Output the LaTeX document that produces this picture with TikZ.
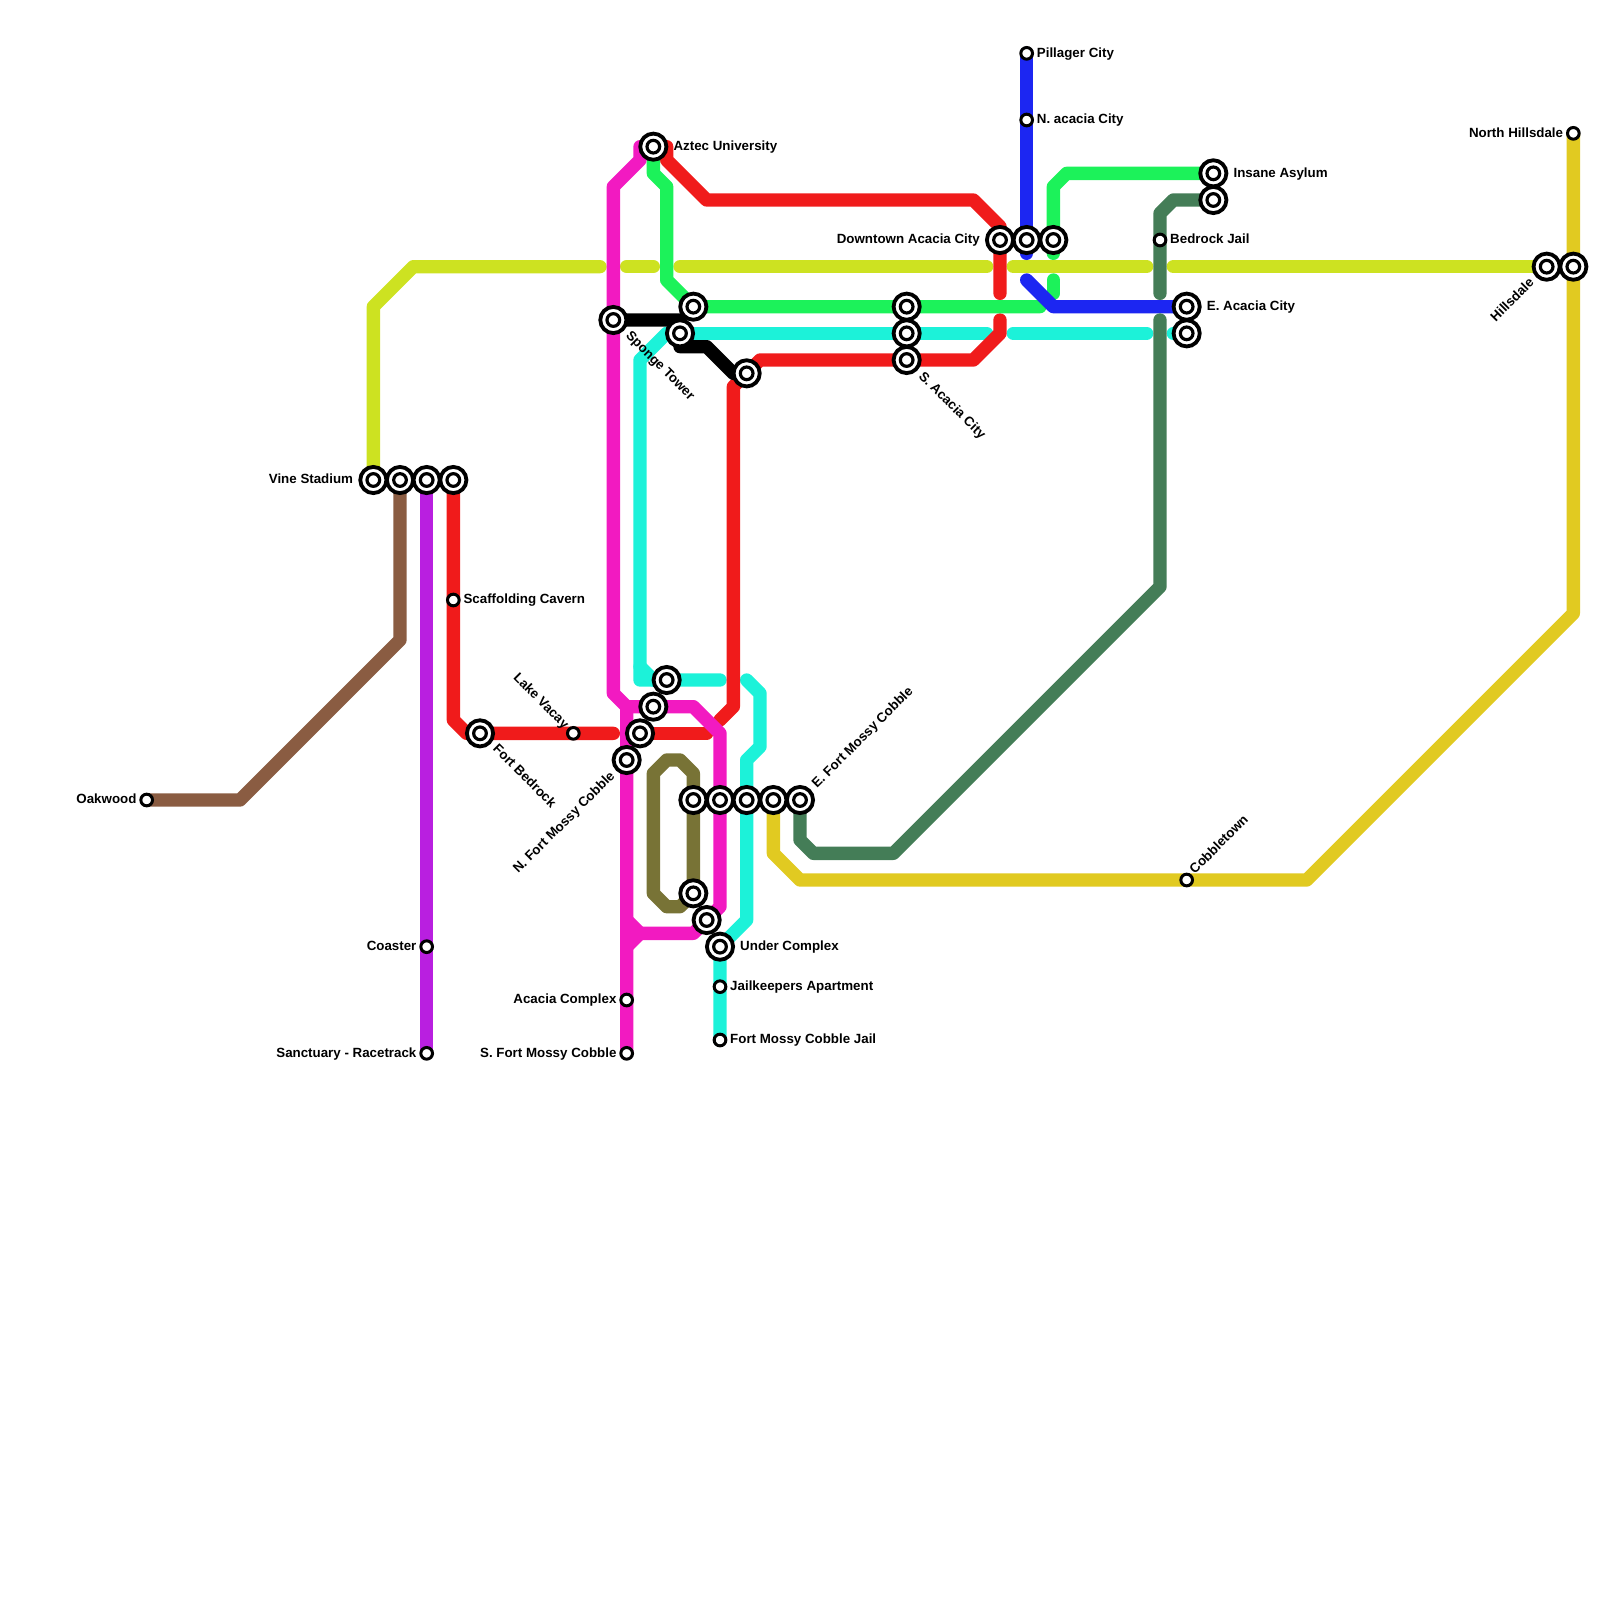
\documentclass[tikz,border=0pt]{standalone}
\usepackage{fontspec}
\setmainfont{Liberation Sans}
\usetikzlibrary{calc, positioning, backgrounds}

\definecolor{linelime}{HTML}{CDE221}
\definecolor{lineyellow}{HTML}{E1CA21}
\definecolor{linebrown}{HTML}{8A5C42}
\definecolor{linepurple}{HTML}{B91FE0}
\definecolor{linered}{HTML}{F01B1B}
\definecolor{linecyan}{HTML}{1CF2D9}
\definecolor{linegreen}{HTML}{1CF25A}
\definecolor{lineblue}{HTML}{1C26F2}
\definecolor{linemagenta}{HTML}{F21AC1}
\definecolor{lineforest}{HTML}{447D57}
\definecolor{lineolive}{HTML}{787336}

\tikzset{
    metroline/.style={line width=0.4cm, line cap=round, line join=round},
    interchange/.style={circle, draw=black, fill=white, line width=0.115cm,
        minimum size=0.785cm, inner sep=0pt,
        path picture={\draw[black, line width=0.095cm, fill=white]
            (path picture bounding box.center) circle (0.19cm);}},
    halt/.style={circle, draw=black, fill=white, line width=0.09cm,
        minimum size=0.35cm, inner sep=0pt},
    stationtext/.style={inner sep=0pt, text=black, text height=8.2pt, text depth=1.4pt,
        font=\bfseries\fontsize{11.38pt}{12pt}\selectfont},
}

\begin{document}
\begin{tikzpicture}[x=0.4cm, y=-0.4cm]
    \useasboundingbox (0,0) rectangle (120,120);

    % 1. Stations
    \node[interchange] (vine) at (28,36) {};
    \node[interchange] (brownhub) at (30,36) {};
    \node[interchange] (purplehub) at (32,36) {};
    \node[interchange] (redhub) at (34,36) {};
    \node[interchange] (bedrock) at (36,55) {};
    \node[interchange] (sponge) at (46,24) {};
    \node[interchange] (aztec) at (49,11) {};
    \node[interchange] (greenhub) at (52,23) {};
    \node[interchange] (cyanhub) at (51,25) {};
    \node[interchange] (redbend) at (56,28) {};
    \node[interchange] (lakeside) at (50,51) {};
    \node[interchange] (pinkhub) at (49,53) {};
    \node[interchange] (redcross) at (48,55) {};
    \node[interchange] (nmossy) at (47,57) {};
    \node[interchange] (olivehub) at (52,60) {};
    \node[interchange] (pinkrow) at (54,60) {};
    \node[interchange] (cyanrow) at (56,60) {};
    \node[interchange] (yellowhub) at (58,60) {};
    \node[interchange] (emossy) at (60,60) {};
    \node[interchange] (olivefoot) at (52,67) {};
    \node[interchange] (pinkfoot) at (53,69) {};
    \node[interchange] (under) at (54,71) {};
    \node[interchange] (acaciagreen) at (68,23) {};
    \node[interchange] (acaciacyan) at (68,25) {};
    \node[interchange] (sacacia) at (68,27) {};
    \node[interchange] (downtown) at (75,18) {};
    \node[interchange] (downblue) at (77,18) {};
    \node[interchange] (downgreen) at (79,18) {};
    \node[interchange] (insane) at (91,13) {};
    \node[interchange] (asylumyard) at (91,15) {};
    \node[interchange] (eacacia) at (89,23) {};
    \node[interchange] (eacaciacyan) at (89,25) {};
    \node[interchange] (hillsdale) at (116,20) {};
    \node[interchange] (hillsyellow) at (118,20) {};

    \node[halt] (oakwood) at (11,60) {};
    \node[halt] (scaffolding) at (34,45) {};
    \node[halt] (lakevacay) at (43,55) {};
    \node[halt] (coaster) at (32,71) {};
    \node[halt] (sanctuary) at (32,79) {};
    \node[halt] (acaciacomplex) at (47,75) {};
    \node[halt] (smossy) at (47,79) {};
    \node[halt] (jailkeepers) at (54,74) {};
    \node[halt] (mossyjail) at (54,78) {};
    \node[halt] (pillager) at (77,4) {};
    \node[halt] (nacacia) at (77,9) {};
    \node[halt] (bedrockjail) at (87,18) {};
    \node[halt] (cobbletown) at (89,66) {};
    \node[halt] (nhillsdale) at (118,10) {};

    % 2. Lines, behind the stations
    \begin{scope}[on background layer]
        \draw[metroline, lineolive] (olivehub.center) -- (52,58) -- (51,57) -- (50,57) -- (49,58)
            -- (49,67) -- (50,68) -- (51,68) -- (olivefoot.center) -- cycle;

        \draw[metroline, linelime] (vine.center) -- (28,23) -- (31,20) -- (45,20);
        \draw[metroline, linelime] (47,20) -- (49,20);
        \draw[metroline, linelime] (51,20) -- (74,20);
        \draw[metroline, linelime] (76,20) -- (86,20);
        \draw[metroline, linelime] (88,20) -- (hillsdale.center);

        \draw[metroline, lineyellow] (nhillsdale.center) -- (hillsyellow.center) -- (118,46)
            -- (98,66) -- (60,66) -- (58,64) -- (yellowhub.center);
        \draw[metroline, linebrown] (oakwood.center) -- (18,60) -- (30,48) -- (brownhub.center);
        \draw[metroline, linepurple] (purplehub.center) -- (sanctuary.center);

        \draw[metroline, linecyan] (lakeside.center) -- (49,51) -- (48,50);
        \draw[metroline, linecyan] (cyanhub.center) -- (50,25) -- (48,27) -- (48,51) -- (54,51);
        \draw[metroline, linecyan] (cyanhub.center) -- (74,25);
        \draw[metroline, linecyan] (76,25) -- (86,25);
        \draw[metroline, linecyan] (88,25) -- (eacaciacyan.center);
        \draw[metroline, linecyan] (56,51) -- (57,52) -- (57,56) -- (56,57) -- (56,69)
            -- (under.center) -- (mossyjail.center);

        \draw[metroline, linered] (redhub.center) -- (34,54) -- (35,55) -- (46,55);
        \draw[metroline, linered] (50,11) -- (50,12) -- (53,15) -- (73,15) -- (75,17) -- (75,22);
        \draw[metroline, linered] (75,24) -- (75,25) -- (73,27) -- (57,27) -- (redbend.center)
            -- (55,29) -- (55,53) -- (54,54);
        \draw[metroline, linered] (redcross.center) -- (53,55);

        \draw[metroline, linegreen] (aztec.center) -- (49,13) -- (50,14) -- (50,21)
            -- (greenhub.center) -- (78,23);
        \draw[metroline, linegreen] (insane.center) -- (80,13) -- (79,14) -- (79,19);
        \draw[metroline, linegreen] (79,21) -- (79,22);

        \draw[metroline, lineblue] (pillager.center) -- (77,19);
        \draw[metroline, lineblue] (77,21) -- (79,23) -- (eacacia.center);

        \draw[metroline, linemagenta] (48,11) -- (48,12) -- (46,14) -- (46,52) -- (47,53)
            -- (smossy.center);
        \draw[metroline, linemagenta] (47,53) -- (52,53) -- (54,55) -- (54,68) -- (pinkfoot.center);
        \draw[metroline, linemagenta] (47,69) -- (48,70) -- (47,71);
        \draw[metroline, linemagenta] (48,70) -- (52,70) -- (pinkfoot.center);

        \draw[metroline, lineforest] (asylumyard.center) -- (88,15) -- (87,16) -- (87,22);
        \draw[metroline, lineforest] (87,24) -- (87,44) -- (67,64) -- (61,64) -- (60,63)
            -- (emossy.center);

        \draw[metroline, black] (sponge.center) -- (51,24) -- (51,26) -- (53,26) -- (55,28)
            -- (redbend.center);
    \end{scope}

    % 3. Station names
    \node[stationtext, left=0.15cm of vine] (vinetext) {Vine Stadium};
    \node[stationtext, left=0.08cm of oakwood] (oakwoodtext) {Oakwood};
    \node[stationtext, left=0.08cm of coaster] (coastertext) {Coaster};
    \node[stationtext, left=0.08cm of sanctuary] (sanctuarytext) {Sanctuary - Racetrack};
    \node[stationtext, left=0.08cm of acaciacomplex] (acaciacomplextext) {Acacia Complex};
    \node[stationtext, left=0.08cm of smossy] (smossytext) {S. Fort Mossy Cobble};
    \node[stationtext, left=0.15cm of downtown] (downtowntext) {Downtown Acacia City};
    \node[stationtext, left=0.08cm of nhillsdale] (nhillsdaletext) {North Hillsdale};
    \node[stationtext, right=0.08cm of scaffolding] (scaffoldingtext) {Scaffolding Cavern};
    \node[stationtext, right=0.15cm of aztec] (aztectext) {Aztec University};
    \node[stationtext, right=0.15cm of under] (undertext) {Under Complex};
    \node[stationtext, right=0.08cm of jailkeepers] (jailkeeperstext) {Jailkeepers Apartment};
    \node[stationtext, right=0.08cm of mossyjail] (mossyjailtext) {Fort Mossy Cobble Jail};
    \node[stationtext, right=0.08cm of pillager] (pillagertext) {Pillager City};
    \node[stationtext, right=0.08cm of nacacia] (nacaciatext) {N. acacia City};
    \node[stationtext, right=0.08cm of bedrockjail] (bedrockjailtext) {Bedrock Jail};
    \node[stationtext, right=0.15cm of insane] (insanetext) {Insane Asylum};
    \node[stationtext, right=0.15cm of eacacia] (eacaciatext) {E. Acacia City};

    % 4. Slanted names
    \node[stationtext, rotate=-45, anchor=west] (spongetext) at ($(sponge)+(1.1,1.02)$) {Sponge Tower};
    \node[stationtext, rotate=-45, anchor=west] (sacaciatext) at ($(sacacia)+(1.06,1.06)$) {S. Acacia City};
    \node[stationtext, rotate=-45, anchor=west] (bedrocktext) at ($(bedrock)+(1.12,1.0)$) {Fort Bedrock};
    \node[stationtext, rotate=-45, anchor=east] (lakevacaytext) at ($(lakevacay)+(-0.5,-0.5)$) {Lake Vacay};
    \node[stationtext, rotate=45, anchor=west] (emossytext) at ($(emossy)+(1.06,-1.06)$) {E. Fort Mossy Cobble};
    \node[stationtext, rotate=45, anchor=west] (cobbletowntext) at ($(cobbletown)+(0.4,-0.6)$) {Cobbletown};
    \node[stationtext, rotate=45, anchor=east] (nmossytext) at ($(nmossy)+(-1.05,1.05)$) {N. Fort Mossy Cobble};
    \node[stationtext, rotate=45, anchor=east] (hillsdaletext) at ($(hillsdale)+(-1.1,1.05)$) {Hillsdale};
\end{tikzpicture}
\end{document}
